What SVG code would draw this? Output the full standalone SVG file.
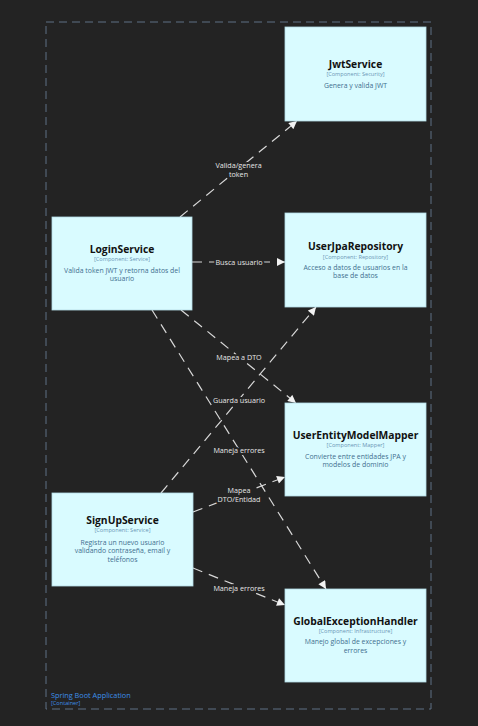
<svg xmlns="http://www.w3.org/2000/svg" width="478" height="726" viewBox="0 0 478 726">
<style>
.bg{fill:#232323}
.box{fill:#d9fbff;stroke:#b3dde6;stroke-width:0.8}
.title{font-family:"Open Sans","Noto Sans",sans-serif;font-size:10.3px;font-weight:bold;fill:#111;text-anchor:middle}
.tech{font-family:"Open Sans","Noto Sans",sans-serif;font-size:5.6px;fill:#6a96b6;text-anchor:middle}
.desc{font-family:"Open Sans","Noto Sans",sans-serif;font-size:6.9px;fill:#3f6f8f;text-anchor:middle}
.edge{fill:none;stroke:#d8d8d8;stroke-width:1.2;stroke-dasharray:10 7}
.lbl{font-family:"Open Sans","Noto Sans",sans-serif;font-size:7.2px;fill:#e6e6e6;text-anchor:middle;stroke:#232323;stroke-width:4;paint-order:stroke;stroke-linejoin:round}
.cont{fill:none;stroke:#5f7185;stroke-width:1;stroke-dasharray:8 5}
.clbl{font-family:"Open Sans","Noto Sans",sans-serif;font-size:7.3px;fill:#3d8fe8}
.ctech{font-family:"Open Sans","Noto Sans",sans-serif;font-size:5.6px;fill:#3d8fe8}
</style>
<defs>
<marker id="arr" viewBox="0 0 10 10" refX="10" refY="5" markerWidth="9" markerHeight="8" markerUnits="userSpaceOnUse" orient="auto">
<path d="M0,0 L10,5 L0,10 z" fill="#f2f2f2"/>
</marker>
</defs>
<rect class="bg" x="0" y="0" width="478" height="726"/>
<g id="container">
<rect class="cont" x="46" y="22" width="385" height="687"/>
<text class="clbl" x="51" y="698">Spring Boot Application</text>
<text class="ctech" x="51" y="705">[Container]</text>
</g>
<g id="connectors">
<path class="edge" d="M180,217 L297,121" marker-end="url(#arr)"/>
<path class="edge" d="M192,262 L285,262" marker-end="url(#arr)"/>
<path class="edge" d="M181,310 L296,403" marker-end="url(#arr)"/>
<path class="edge" d="M152,310 L326,589" marker-end="url(#arr)"/>
<path class="edge" d="M161,493 L316,307" marker-end="url(#arr)"/>
<path class="edge" d="M193,512 L285,477" marker-end="url(#arr)"/>
<path class="edge" d="M193,568 L285,605" marker-end="url(#arr)"/>
<text class="lbl" x="238.5" y="167.5">Valida/genera</text>
<text class="lbl" x="238.5" y="176.5">token</text>
<text class="lbl" x="239" y="264.8">Busca usuario</text>
<text class="lbl" x="239" y="359.8">Mapea a DTO</text>
<text class="lbl" x="239" y="402.8">Guarda usuario</text>
<text class="lbl" x="239" y="452.8">Maneja errores</text>
<text class="lbl" x="239" y="493.2">Mapea</text>
<text class="lbl" x="239" y="501.8">DTO/Entidad</text>
<text class="lbl" x="239" y="591.2">Maneja errores</text>
</g>
<g id="JwtService">
<rect class="box" x="285" y="27" width="141" height="94"/>
<text class="title" x="355.5" y="68">JwtService</text>
<text class="tech" x="355.5" y="76">[Component: Security]</text>
<text class="desc" x="355.5" y="87.5">Genera y valida JWT</text>
</g>
<g id="LoginService">
<rect class="box" x="52" y="217" width="140" height="93"/>
<text class="title" x="122" y="253">LoginService</text>
<text class="tech" x="122" y="261">[Component: Service]</text>
<text class="desc" x="122" y="272.8">Valida token JWT y retorna datos del</text>
<text class="desc" x="122" y="281.3">usuario</text>
</g>
<g id="UserJpaRepository">
<rect class="box" x="285" y="213" width="141" height="94"/>
<text class="title" x="355.5" y="250.3">UserJpaRepository</text>
<text class="tech" x="355.5" y="258.6">[Component: Repository]</text>
<text class="desc" x="355.5" y="269.5">Acceso a datos de usuarios en la</text>
<text class="desc" x="355.5" y="278">base de datos</text>
</g>
<g id="UserEntityModelMapper">
<rect class="box" x="285" y="403" width="141" height="93"/>
<text class="title" x="355.5" y="439">UserEntityModelMapper</text>
<text class="tech" x="355.5" y="447.3">[Component: Mapper]</text>
<text class="desc" x="355.5" y="458.5">Convierte entre entidades JPA y</text>
<text class="desc" x="355.5" y="467">modelos de dominio</text>
</g>
<g id="SignUpService">
<rect class="box" x="52" y="493" width="141" height="93"/>
<text class="title" x="122.5" y="523.6">SignUpService</text>
<text class="tech" x="122.5" y="532">[Component: Service]</text>
<text class="desc" x="122.5" y="544.5">Registra un nuevo usuario</text>
<text class="desc" x="122.5" y="553.3">validando contraseña, email y</text>
<text class="desc" x="122.5" y="562.1">teléfonos</text>
</g>
<g id="GlobalExceptionHandler">
<rect class="box" x="285" y="589" width="141" height="93"/>
<text class="title" x="355.5" y="625">GlobalExceptionHandler</text>
<text class="tech" x="355.5" y="633">[Component: Infrastructure]</text>
<text class="desc" x="355.5" y="643.8">Manejo global de excepciones y</text>
<text class="desc" x="355.5" y="652.5">errores</text>
</g>
</svg>
